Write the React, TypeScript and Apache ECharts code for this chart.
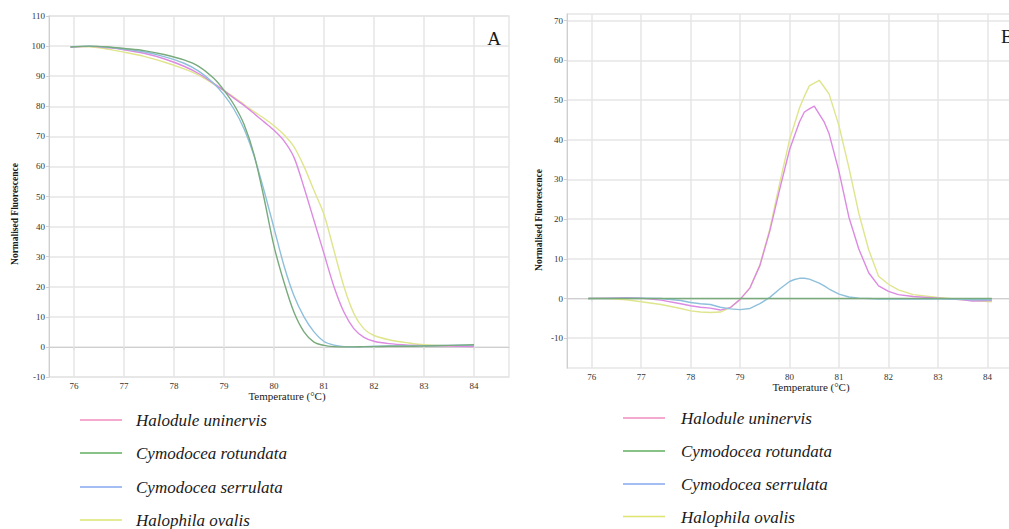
import React, { useEffect, useRef } from "react";
import * as echarts from "echarts";

// ---------- data ----------
const speciesNames = [
  "Halodule uninervis",
  "Cymodocea rotundata",
  "Cymodocea serrulata",
  "Halophila ovalis",
];
const lineColors = ["#dc8ae2", "#78aa7c", "#8ec0dc", "#dfe58c"];
const legendColors = ["#f08cbf", "#5fae5f", "#86a8f0", "#dde470"];

const xTicks = [76, 77, 78, 79, 80, 81, 82, 83, 84];
const yTicksB = [-10, 0, 10, 20, 30, 40, 50, 60, 70];

// Panel A: normalised melt curves
const tempA = [75.93, 76.3, 76.7, 77.0, 77.4, 77.8, 78.2, 78.5, 78.8, 79.0, 79.2, 79.4, 79.6, 79.8, 80.0, 80.2, 80.4, 80.6, 80.8, 81.0, 81.2, 81.4, 81.6, 81.8, 82.0, 82.3, 82.7, 83.0, 83.5, 84.0];
const haloduleA = [99.6, 99.9, 99.4, 98.8, 97.6, 95.8, 93.3, 90.8, 87.5, 85.2, 82.7, 80.3, 77.6, 74.8, 72.0, 68.5, 63.0, 53.0, 42.0, 31.0, 20.0, 11.5, 6.0, 3.2, 1.9, 1.1, 0.6, 0.4, 0.3, 0.1];
const rotundataA = [99.7, 100.0, 99.7, 99.2, 98.5, 97.2, 95.4, 93.2, 89.2, 85.3, 80.5, 74.0, 64.0, 49.5, 33.5, 21.5, 11.5, 5.0, 1.6, 0.5, 0.1, 0.0, 0.0, 0.1, 0.1, 0.2, 0.2, 0.3, 0.5, 0.7];
const serrulataA = [99.8, 100.0, 99.6, 99.0, 98.1, 96.5, 94.3, 91.6, 87.5, 83.8, 79.0, 72.5, 63.5, 52.0, 39.5, 27.0, 17.0, 10.0, 5.0, 1.8, 0.6, 0.1, 0.0, 0.1, 0.2, 0.3, 0.3, 0.4, 0.5, 0.6];
const ovalisA = [99.8, 99.8, 98.9, 98.0, 96.6, 94.7, 92.4, 90.3, 87.3, 85.2, 83.0, 80.6, 78.2, 76.0, 73.5, 70.5, 66.5, 60.0, 52.0, 44.0, 32.0, 20.0, 11.0, 6.0, 3.8, 2.4, 1.3, 0.7, 0.4, 0.3];

// Panel B: derivative melt curves
const tempB = [75.93, 76.3, 76.7, 77.0, 77.4, 77.8, 78.0, 78.2, 78.4, 78.6, 78.8, 79.0, 79.2, 79.4, 79.6, 79.8, 80.0, 80.1, 80.2, 80.3, 80.4, 80.5, 80.6, 80.7, 80.8, 81.0, 81.2, 81.4, 81.6, 81.8, 82.0, 82.2, 82.5, 83.0, 83.5, 83.7, 84.09];
const haloduleB = [0, 0.1, 0.2, 0.1, -0.4, -1.3, -1.8, -2.2, -2.4, -2.9, -2.3, -0.2, 2.7, 8.3, 17.0, 27.5, 37.5, 41.0, 44.5, 47.0, 47.8, 48.5, 46.5, 44.5, 41.5, 32.0, 20.5, 12.5, 6.5, 3.2, 1.8, 1.0, 0.5, 0.1, -0.3, -0.6, -0.5];
const rotundataB = [0, 0, 0, 0, 0, 0, 0, 0, 0, 0, 0, 0, 0, 0, 0, 0, 0, 0, 0, 0, 0, 0, 0, 0, 0, 0, 0, 0, 0, 0, 0, 0, 0, 0, 0, 0, 0];
const serrulataB = [0, 0, 0.1, 0.1, 0, -0.5, -1.0, -1.3, -1.5, -2.2, -2.6, -2.8, -2.5, -1.3, 0.3, 2.4, 4.3, 4.8, 5.1, 5.1, 4.9, 4.4, 3.9, 3.2, 2.4, 1.1, 0.4, 0.1, 0, -0.1, -0.1, -0.1, -0.1, -0.1, -0.2, -0.3, -0.3];
const ovalisB = [0, 0, -0.3, -0.8, -1.5, -2.5, -3.1, -3.4, -3.5, -3.4, -2.3, -0.2, 2.7, 8.5, 17.5, 29.0, 40.0, 44.0, 48.0, 51.0, 53.6, 54.3, 55.0, 53.3, 51.5, 43.5, 33.0, 21.5, 12.3, 5.6, 3.6, 2.2, 1.0, 0.3, -0.3, -0.5, -0.8];

const seriesA = [haloduleA, rotundataA, serrulataA, ovalisA];
const seriesB = [haloduleB, rotundataB, serrulataB, ovalisB];

const SERIF = '"Liberation Serif", "Times New Roman", serif';

function pair(xs: number[], ys: number[]) {
  return xs.map((x, i) => [x, ys[i]]);
}

export default function App() {
  const ref = useRef<HTMLDivElement>(null);

  useEffect(() => {
    if (!ref.current) return;
    const chart = echarts.init(ref.current, null, { renderer: "svg" });

    const gridLine = { show: true, lineStyle: { color: "#e6e6e6", width: 1.5 } };
    const axisLine = { show: true, lineStyle: { color: "#cfcfcf", width: 1 } };
    const labelStyle = { fontFamily: SERIF, fontSize: 9, color: "#333" };

    const xAxisCommon = (gridIndex: number) => ({
      type: "value",
      gridIndex,
      min: 75.5,
      max: 84.7,
      axisLine,
      axisTick: { show: true, customValues: xTicks, length: 3, lineStyle: { color: "#e0e0e0", width: 1.5 } },
      axisLabel: { customValues: xTicks, margin: 4, ...labelStyle },
      splitLine: gridLine,
    });

    const series: any[] = [];
    // Panel A
    [3, 0, 2, 1].forEach((k) => {
      series.push({
        type: "line",
        name: speciesNames[k],
        xAxisIndex: 0,
        yAxisIndex: 0,
        data: pair(tempA, seriesA[k]),
        showSymbol: false,
        smooth: 0.3,
        lineStyle: { color: lineColors[k], width: 1.4 },
        itemStyle: { color: lineColors[k] },
      });
    });
    // Panel B
    [3, 0, 2, 1].forEach((k) => {
      series.push({
        type: "line",
        name: speciesNames[k],
        xAxisIndex: 1,
        yAxisIndex: 1,
        data: pair(tempB, seriesB[k]),
        showSymbol: false,
        lineStyle: { color: lineColors[k], width: 1.4 },
        itemStyle: { color: lineColors[k] },
      });
    });

    const graphic: any[] = [];
    const txt = (text: string, x: number, y: number, opts: any = {}) => ({
      type: "text",
      x,
      y,
      rotation: opts.rotation || 0,
      style: {
        text,
        fontFamily: SERIF,
        fontSize: opts.fontSize || 11,
        fontWeight: opts.fontWeight || "normal",
        fontStyle: opts.fontStyle || "normal",
        fill: opts.fill || "#1a1a1a",
        align: opts.align || "center",
        verticalAlign: opts.verticalAlign || "middle",
      },
    });
    // axis titles
    graphic.push(txt("Normalised Fluorescence", 15, 214, { rotation: Math.PI / 2, fontSize: 9.5, fontWeight: "bold" }));
    graphic.push(txt("Normalised Fluorescence", 539, 220, { rotation: Math.PI / 2, fontSize: 9.5, fontWeight: "bold" }));
    graphic.push(txt("Temperature (°C)", 287, 396, { fontSize: 11 }));
    graphic.push(txt("Temperature (°C)", 811, 387, { fontSize: 11 }));
    // panel letters
    graphic.push(txt("A", 494, 38, { fontSize: 19 }));
    graphic.push(txt("B", 1001, 36, { fontSize: 19, align: "left" }));
    // legends
    const legA = { x1: 80, x2: 122, tx: 136, ys: [420, 453, 487, 520] };
    const legB = { x1: 623, x2: 665, tx: 681, ys: [418, 451, 484, 516.5] };
    [legA, legB].forEach((lg) => {
      speciesNames.forEach((name, i) => {
        graphic.push({
          type: "line",
          shape: { x1: lg.x1, y1: lg.ys[i], x2: lg.x2, y2: lg.ys[i] },
          style: { stroke: legendColors[i], lineWidth: 1.5 },
        });
        graphic.push(txt(name, lg.tx, lg.ys[i] + 0.5, { fontSize: 17, fontStyle: "italic", align: "left" }));
      });
    });

    chart.setOption({
      animation: false,
      backgroundColor: "#ffffff",
      grid: [
        { left: 49, top: 16, width: 460, height: 361, outerBoundsMode: "none", show: true, borderColor: "#e6e6e6", borderWidth: 1.5, backgroundColor: "transparent" },
        { left: 567, top: 14, width: 455, height: 354, outerBoundsMode: "none", show: true, borderColor: "#e6e6e6", borderWidth: 1.5, backgroundColor: "transparent" },
      ],
      xAxis: [xAxisCommon(0), xAxisCommon(1)],
      yAxis: [
        {
          type: "value",
          gridIndex: 0,
          min: -10,
          max: 110,
          interval: 10,
          axisLine,
          axisTick: { show: true, length: 3, lineStyle: { color: "#cfcfcf" } },
          axisLabel: { margin: 4, ...labelStyle },
          splitLine: gridLine,
        },
        {
          type: "value",
          gridIndex: 1,
          min: -17.5,
          max: 71.7,
          axisLine,
          axisTick: { show: true, customValues: yTicksB, length: 3, lineStyle: { color: "#cfcfcf" } },
          axisLabel: { customValues: yTicksB, margin: 4, ...labelStyle },
          splitLine: gridLine,
        },
      ],
      series,
      graphic,
    });

    return () => chart.dispose();
  }, []);

  return (
    <div
      ref={ref}
      style={{ position: "absolute", left: 0, top: 0, width: 1009, height: 529, background: "#fff" }}
    />
  );
}
